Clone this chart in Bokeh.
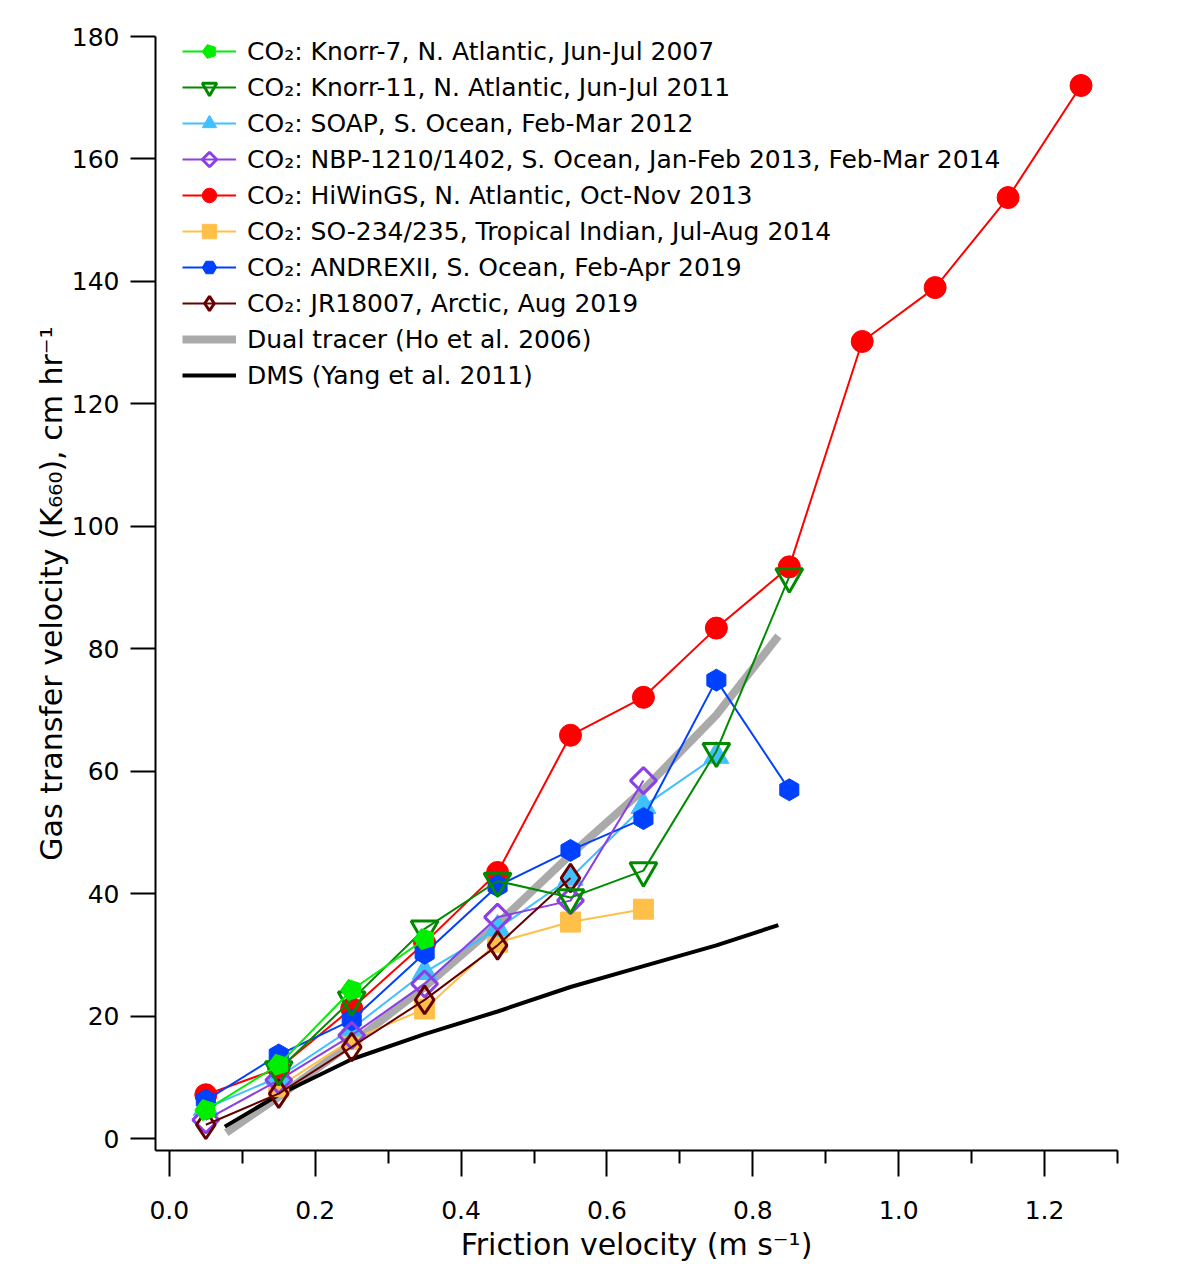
import numpy as np
from bokeh.plotting import figure
from bokeh.models import Range1d, FixedTicker, PrintfTickFormatter, Legend, LegendItem
from bokeh.embed import file_html
from bokeh.resources import INLINE

# ---------------- data ----------------
x_k7 = [0.05, 0.15, 0.25, 0.35]
y_k7 = [4.7, 12.1, 24.3, 32.6]

x_k11 = [0.15, 0.25, 0.35, 0.45, 0.55, 0.65, 0.75, 0.85]
y_k11 = [11.3, 22.7, 34.3, 42.1, 39.4, 43.8, 63.3, 91.8]

x_soap = [0.05, 0.15, 0.25, 0.35, 0.45, 0.55, 0.65, 0.75]
y_soap = [5.0, 10.1, 18.0, 27.2, 34.3, 42.6, 54.3, 62.5]

x_nbp = [0.05, 0.15, 0.25, 0.35, 0.45, 0.55, 0.65]
y_nbp = [3.1, 9.6, 16.9, 25.3, 36.2, 38.9, 58.5]

x_hiw = [0.05, 0.15, 0.25, 0.35, 0.45, 0.55, 0.65, 0.75, 0.85, 0.95, 1.05, 1.15, 1.25]
y_hiw = [7.2, 11.5, 21.3, 32.0, 43.5, 65.9, 72.1, 83.4, 93.4, 130.2, 139.0, 153.7, 172.0]

x_so = [0.15, 0.25, 0.35, 0.45, 0.55, 0.65]
y_so = [8.5, 16.2, 21.2, 32.1, 35.4, 37.5]

x_and = [0.05, 0.15, 0.25, 0.35, 0.45, 0.55, 0.65, 0.75, 0.85]
y_and = [6.3, 13.7, 19.4, 30.3, 41.3, 47.1, 52.3, 74.9, 57.0]

x_jr = [0.05, 0.15, 0.25, 0.35, 0.45, 0.55]
y_jr = [2.3, 7.4, 15.0, 22.7, 31.6, 42.6]

x_ho = [0.078, 0.15, 0.25, 0.35, 0.45, 0.55, 0.65, 0.75, 0.835]
y_ho = [1.0, 6.9, 15.6, 24.8, 35.1, 46.4, 57.0, 69.2, 82.1]

x_dms = [0.076, 0.15, 0.25, 0.35, 0.45, 0.55, 0.65, 0.75, 0.835]
y_dms = [2.0, 7.2, 13.0, 17.1, 20.8, 24.8, 28.2, 31.6, 34.9]

x_ticks = [0.0, 0.2, 0.4, 0.6, 0.8, 1.0, 1.2]
x_minor = [0.1, 0.3, 0.5, 0.7, 0.9, 1.1, 1.3]
y_ticks = [0, 20, 40, 60, 80, 100, 120, 140, 160, 180]

labels = [
    "CO\u2082: Knorr-7, N. Atlantic, Jun-Jul 2007",
    "CO\u2082: Knorr-11, N. Atlantic, Jun-Jul 2011",
    "CO\u2082: SOAP, S. Ocean, Feb-Mar 2012",
    "CO\u2082: NBP-1210/1402, S. Ocean, Jan-Feb 2013, Feb-Mar 2014",
    "CO\u2082: HiWinGS, N. Atlantic, Oct-Nov 2013",
    "CO\u2082: SO-234/235, Tropical Indian, Jul-Aug 2014",
    "CO\u2082: ANDREXII, S. Ocean, Feb-Apr 2019",
    "CO\u2082: JR18007, Arctic, Aug 2019",
    "Dual tracer (Ho et al. 2006)",
    "DMS (Yang et al. 2011)",
]

# ---------------- figure ----------------
FONT = "DejaVu Sans"
p = figure(width=1190, height=1264, output_backend="svg", toolbar_location=None,
           x_range=Range1d(-0.019, 1.3), y_range=Range1d(-1.9, 180),
           min_border_left=155, min_border_right=73, min_border_top=36,
           min_border_bottom=110)
p.grid.visible = False
p.outline_line_color = None
p.background_fill_color = "white"
p.border_fill_color = "white"

xa = p.xaxis[0]
xa.ticker = FixedTicker(ticks=x_ticks, minor_ticks=x_minor)
xa.formatter = PrintfTickFormatter(format="%.1f")
ya = p.yaxis[0]
ya.ticker = FixedTicker(ticks=y_ticks, minor_ticks=[])

for ax in (xa, ya):
    ax.axis_line_width = 2
    ax.axis_line_color = "black"
    ax.major_tick_line_width = 2
    ax.minor_tick_line_width = 2
    ax.major_tick_in = 0
    ax.minor_tick_in = 0
    ax.major_label_text_font = FONT
    ax.major_label_text_font_size = "25px"
    ax.major_label_text_color = "black"
    ax.axis_label_text_font = FONT
    ax.axis_label_text_font_size = "30px"
    ax.axis_label_text_font_style = "normal"
    ax.axis_label_text_color = "black"

xa.major_tick_out = 26
xa.minor_tick_out = 13
xa.major_label_standoff = 24
xa.axis_label_standoff = 5
xa.axis_label = "Friction velocity (m s\u207b\u00b9)"

ya.major_tick_out = 25
ya.minor_tick_out = 0
ya.major_label_standoff = 11
ya.axis_label_standoff = 0
ya.axis_label = "Gas transfer velocity (K\u2086\u2086\u2080), cm hr\u207b\u00b9"

# reference curves (drawn underneath)
r_ho = p.line(x_ho, y_ho, line_color="#aaaaaa", line_width=8)
r_dms = p.line(x_dms, y_dms, line_color="black", line_width=4)


def series(x, y, color, marker, size, fill=True, lw=1, angle=0.0):
    ln = p.line(x, y, line_color=color, line_width=2)
    sc = p.scatter(x, y, marker=marker, size=size, angle=angle,
                   fill_color=color if fill else None,
                   line_color=color, line_width=lw)
    return [ln, sc]


def ngon_series(x, y, color, n, radius, fill=True, lw=1, angle=0.0, fb="hex"):
    ln = p.line(x, y, line_color=color, line_width=2)
    try:
        sc = p.ngon(x=x, y=y, radius=radius, radius_units="screen", n=n,
                    angle=angle, fill_color=color if fill else None,
                    line_color=color, line_width=lw)
    except Exception:
        sc = p.scatter(x, y, marker=fb, size=2 * radius,
                       fill_color=color if fill else None,
                       line_color=color, line_width=lw)
    return [ln, sc]


r_so = series(x_so, y_so, "#ffc04a", "square", 20)
r_soap = series(x_soap, y_soap, "#40c0ff", "triangle", 25)
r_hiw = series(x_hiw, y_hiw, "#ff0000", "circle", 22)
r_and = series(x_and, y_and, "#0040ff", "hex", 22, angle=np.pi / 2)
r_nbp = ngon_series(x_nbp, y_nbp, "#8a40e6", 4, 13, fill=False, lw=3, fb="diamond")
r_jr = series(x_jr, y_jr, "#660000", "diamond", 28, fill=False, lw=3)
r_k11 = series(x_k11, y_k11, "#008a00", "inverted_triangle", 27, fill=False, lw=3)
r_k7 = ngon_series(x_k7, y_k7, "#00ee00", 5, 11, angle=np.pi / 2)

groups = [r_k7, r_k11, r_soap, r_nbp, r_hiw, r_so, r_and, r_jr, [r_ho], [r_dms]]
items = [LegendItem(label=lab, renderers=g) for lab, g in zip(labels, groups)]
legend = Legend(items=items, location=(27, 757), orientation="vertical",
                glyph_width=54, glyph_height=36, label_height=36, spacing=0,
                padding=0, margin=0, label_standoff=11,
                label_text_font=FONT, label_text_font_size="25px",
                label_text_color="black",
                background_fill_alpha=0, border_line_color=None)
p.add_layout(legend)

open("out.html", "w").write(file_html(p, INLINE))
